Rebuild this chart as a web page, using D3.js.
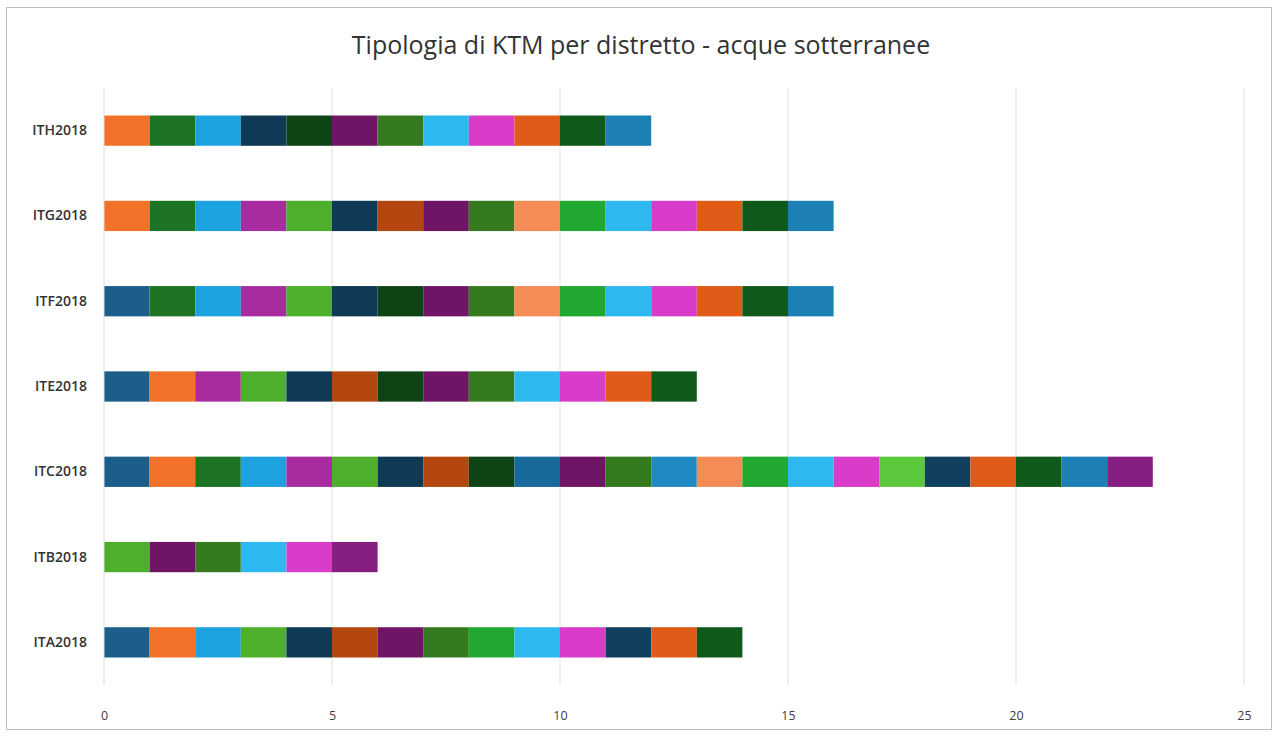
<!DOCTYPE html>
<html>
<head>
<meta charset="utf-8">
<script src="https://cdn.jsdelivr.net/npm/d3@7"></script>
<style>
  html, body { margin: 0; padding: 0; background: #ffffff; }
  svg { display: block; }
</style>
</head>
<body>
<svg id="chart" width="1278" height="736"></svg>
<script>
// ---- Data ----
const chartTitle = "Tipologia di KTM per distretto - acque sotterranee";
const categories = ["ITH2018", "ITG2018", "ITF2018", "ITE2018", "ITC2018", "ITB2018", "ITA2018"];
const seriesNames = d3.range(1, 24).map(i => "Serie" + i);
// KTM types (series numbers) present in each district, each with value 1
const ITH2018 = [2, 3, 4, 7, 9, 11, 12, 16, 17, 20, 21, 22];
const ITG2018 = [2, 3, 4, 5, 6, 7, 8, 11, 12, 14, 15, 16, 17, 20, 21, 22];
const ITF2018 = [1, 3, 4, 5, 6, 7, 9, 11, 12, 14, 15, 16, 17, 20, 21, 22];
const ITE2018 = [1, 2, 5, 6, 7, 8, 9, 11, 12, 16, 17, 20, 21];
const ITC2018 = d3.range(1, 24);
const ITB2018 = [6, 11, 12, 16, 17, 23];
const ITA2018 = [1, 2, 4, 6, 7, 8, 11, 12, 15, 16, 17, 19, 20, 21];
const xTicks = [0, 5, 10, 15, 20, 25];
const seriesColors = [
  "#1B5E8A", "#F2722A", "#1D7424", "#1CA2DF", "#A82CA0", "#4DAF2C",
  "#0F3A55", "#B3470F", "#0E4415", "#186A9A", "#701565", "#357A1E",
  "#1F8AC4", "#F58C55", "#20A830", "#2DB8F0", "#D83CC8", "#5CC83C",
  "#113F5F", "#E05A18", "#0F5A1A", "#1C80B4", "#862080"
];

// Build table for the stack
const membership = { ITH2018, ITG2018, ITF2018, ITE2018, ITC2018, ITB2018, ITA2018 };
const table = categories.map(c => {
  const row = { cat: c };
  seriesNames.forEach((s, i) => { row[s] = membership[c].includes(i + 1) ? 1 : 0; });
  return row;
});

// ---- Layout ----
const svg = d3.select("#chart");
const W = 1278, H = 736;
const margin = { left: 104, right: 34, top: 88, bottom: 51 };

// chart border
svg.append("rect")
  .attr("x", 6.5).attr("y", 7.5).attr("width", W - 13).attr("height", H - 14)
  .attr("fill", "#ffffff").attr("stroke", "#bfbfbf").attr("stroke-width", 1);

const x = d3.scaleLinear().domain([0, 25]).range([margin.left, W - margin.right]);
const y = d3.scaleBand().domain(categories).range([margin.top, H - margin.bottom])
  .paddingInner(0.645).paddingOuter(0.3225);

// gridlines
svg.append("g").selectAll("line").data(xTicks.filter(t => t > 0)).join("line")
  .attr("x1", d => x(d)).attr("x2", d => x(d))
  .attr("y1", margin.top).attr("y2", H - margin.bottom)
  .attr("stroke", "#e0e0e0").attr("stroke-width", 1);

// bars
const stack = d3.stack().keys(seriesNames)(table);
const color = d3.scaleOrdinal().domain(seriesNames).range(seriesColors);
svg.append("g").selectAll("g").data(stack).join("g")
  .attr("fill", d => color(d.key))
  .selectAll("rect").data(d => d.filter(p => p[1] - p[0] > 0)).join("rect")
  .attr("x", d => x(d[0]))
  .attr("width", d => x(d[1]) - x(d[0]))
  .attr("y", d => y(d.data.cat))
  .attr("height", y.bandwidth());

// vertical axis line at 0
svg.append("line")
  .attr("x1", x(0)).attr("x2", x(0))
  .attr("y1", margin.top).attr("y2", H - margin.bottom)
  .attr("stroke", "#d9d9d9");

// x axis
const xAxis = svg.append("g")
  .attr("transform", `translate(0,${H - margin.bottom + 26})`)
  .call(d3.axisBottom(x).tickValues(xTicks).tickSize(0).tickPadding(0));
xAxis.select(".domain").remove();
xAxis.selectAll("text")
  .attr("font-family", "'Open Sans', sans-serif").attr("font-size", 12.5)
  .attr("fill", "#404040");

// y axis
const yAxis = svg.append("g")
  .attr("transform", `translate(${margin.left - 17},0)`)
  .call(d3.axisLeft(y).tickSize(0).tickPadding(0));
yAxis.select(".domain").remove();
yAxis.selectAll("text")
  .attr("font-family", "'Open Sans', sans-serif").attr("font-size", 14)
  .attr("font-weight", 600)
  .attr("fill", "#333333");

// title
svg.append("text")
  .attr("x", 641).attr("y", 54)
  .attr("text-anchor", "middle")
  .attr("font-family", "'Open Sans', sans-serif").attr("font-size", 25)
  .attr("fill", "#333333")
  .text(chartTitle);
</script>
</body>
</html>
